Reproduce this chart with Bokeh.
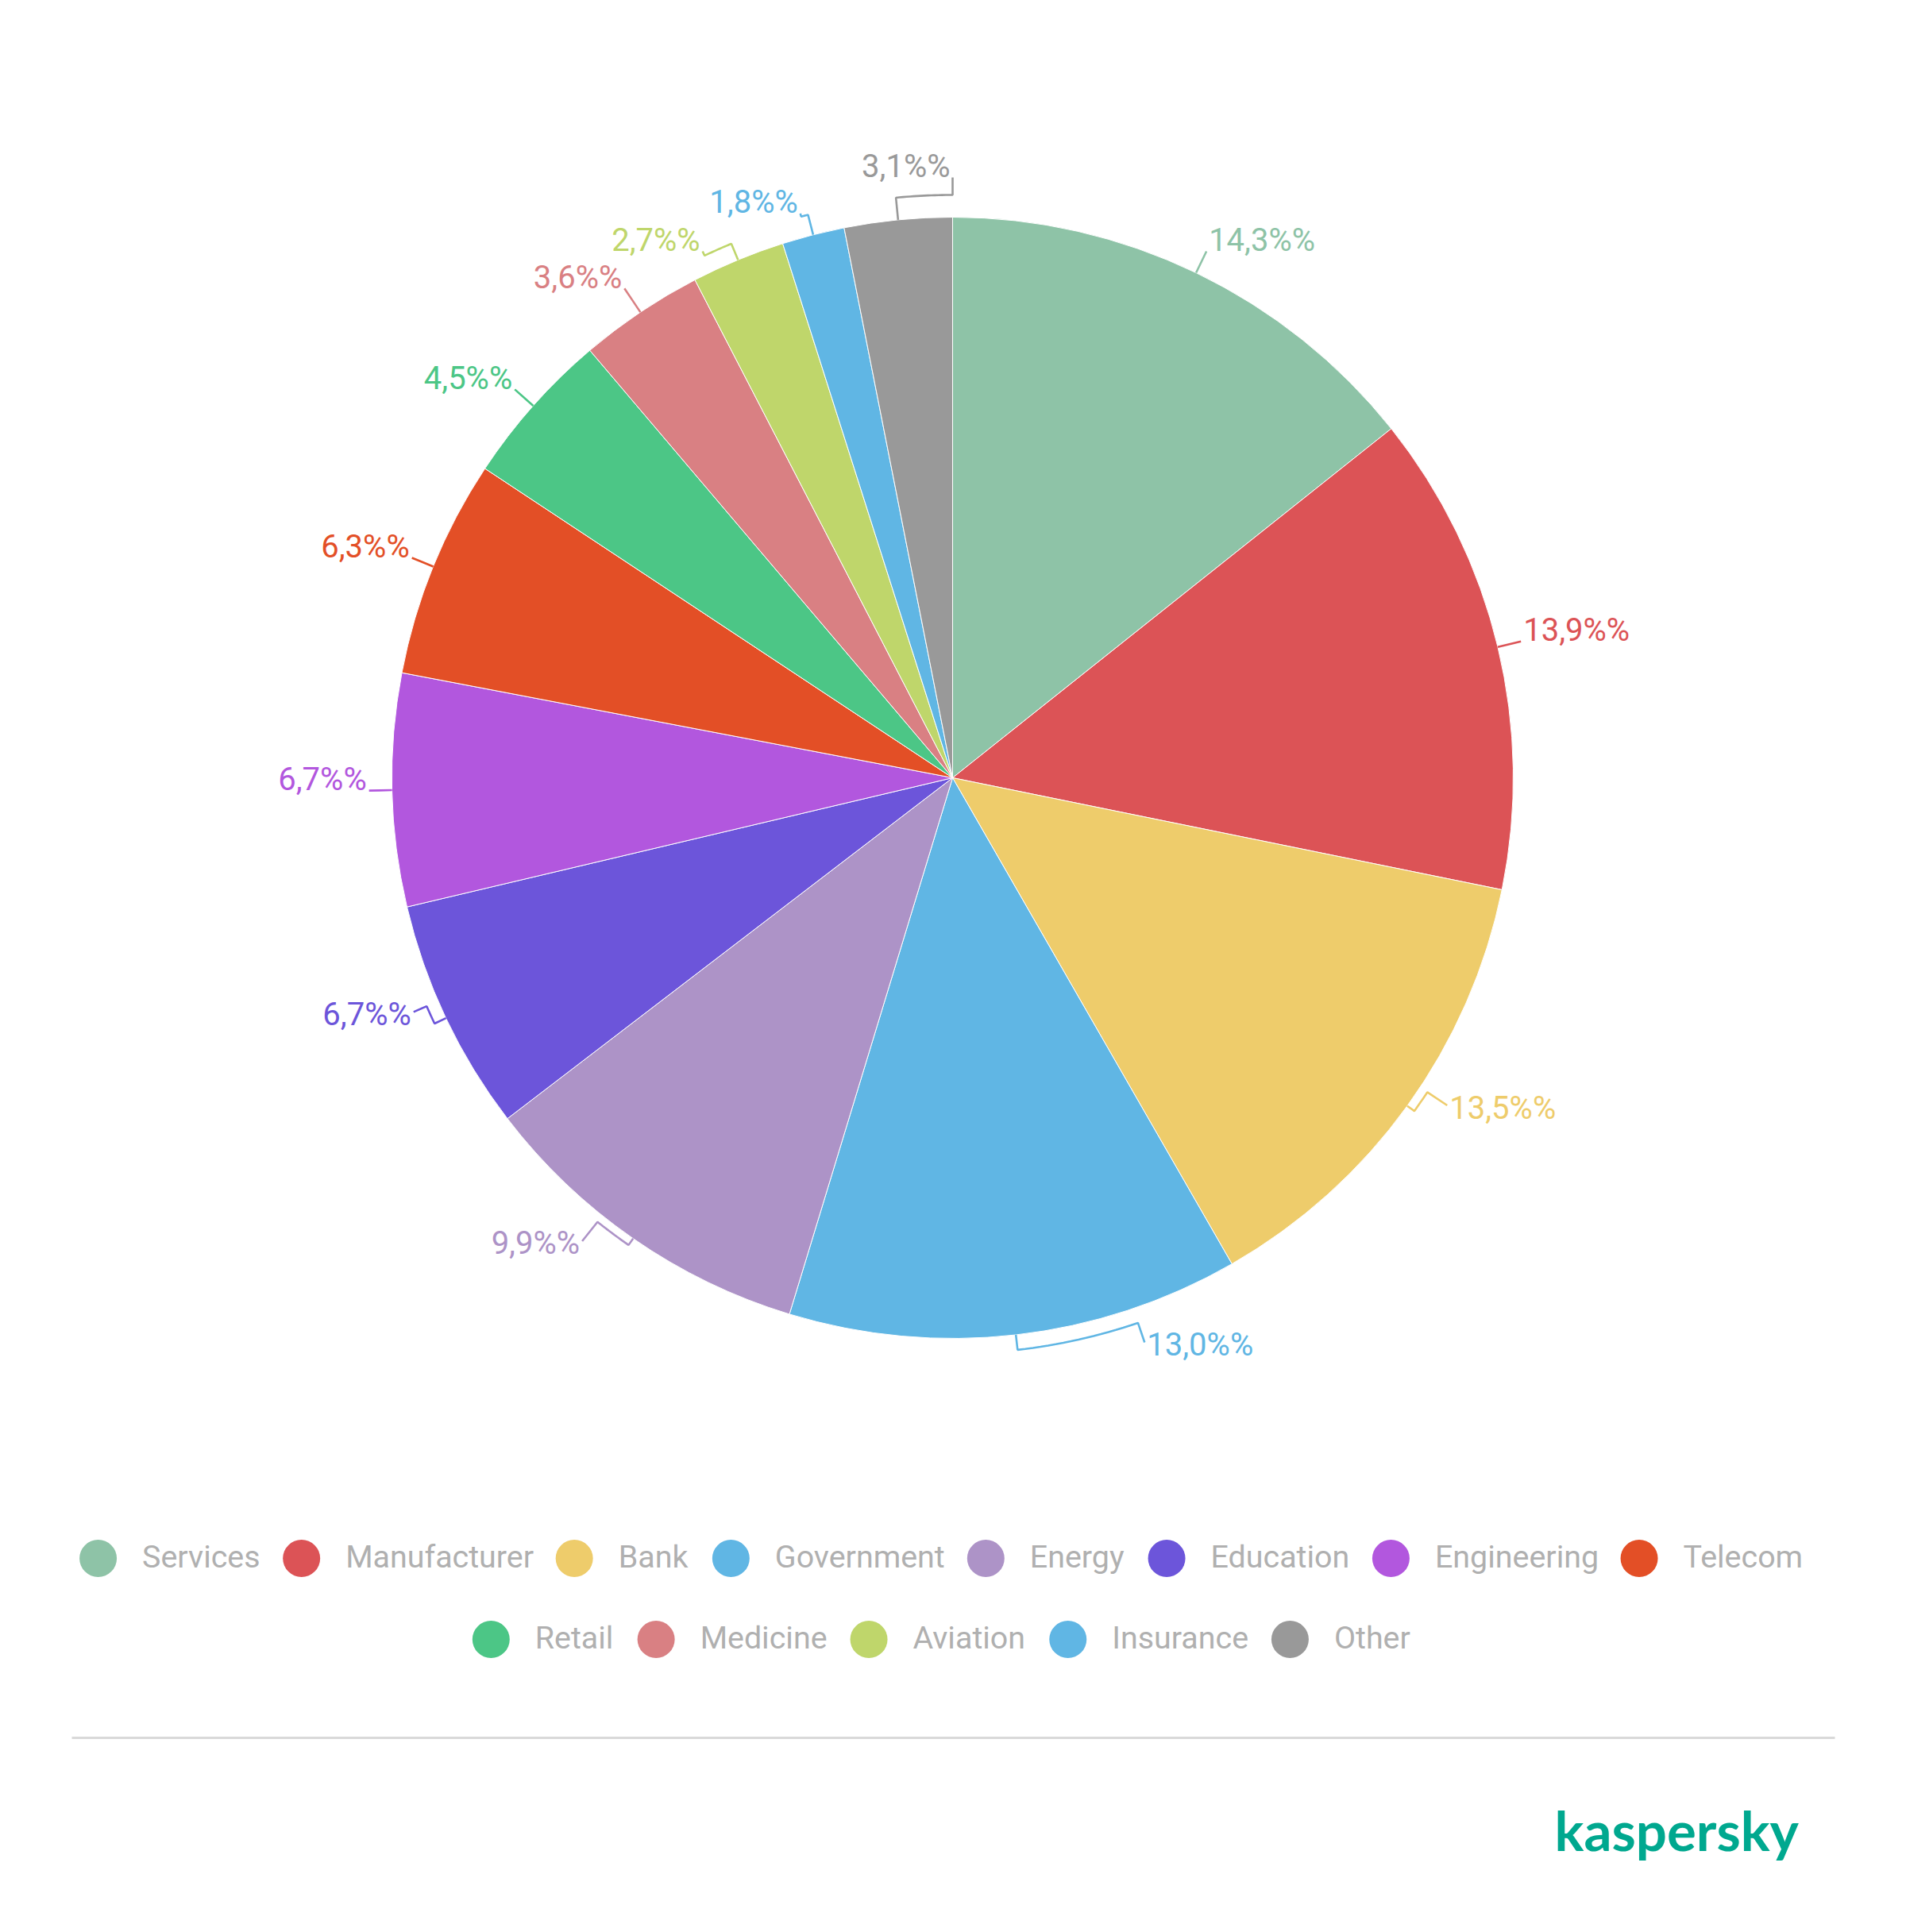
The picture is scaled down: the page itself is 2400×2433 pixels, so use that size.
import math
from bokeh.plotting import figure
from bokeh.models import Range1d
from bokeh.core.properties import value
from bokeh.embed import file_html
from bokeh.resources import INLINE

# ---------------- data ----------------
categories = ["Services", "Manufacturer", "Bank", "Government", "Energy", "Education",
              "Engineering", "Telecom", "Retail", "Medicine", "Aviation", "Insurance", "Other"]
shares = [14.3, 13.9, 13.5, 13.0, 9.9, 6.7, 6.7, 6.3, 4.5, 3.6, 2.7, 1.8, 3.1]
colors = ["#8ec3a7", "#dc5356", "#eecc6b", "#60b6e4", "#ad93c7", "#6c55da",
          "#b257de", "#e34f26", "#4cc686", "#d98083", "#bfd66b", "#60b6e4", "#999999"]
legend_rows = [categories[:8], categories[8:]]
labels = [("%.1f" % v).replace(".", ",") + "%%" for v in shares]

# ---------------- layout (page pixels) ----------------
W, H = 2400, 2433
CX, CY, R = 1199, 979, 706
label_shift = [0, 0, -2.3, -12.3, 3.9, 1.9, 0, 0, 0, 0, -2.9, -0.7, 5.58]
elbow_ext = [15, 15, 11, 19, 10, 16, 15, 15, 15, 18, 22, 26, 28]
label_ext = [30, 30, 41, 45, 41, 34, 29, 29, 31, 36, 28, 30, 50]
LABEL_FS = "40px"
LEG_FS = 39.4
LEG_Y = [1962, 2064]
DOT = 47
GAP = 32
BASE_FIX = -15   # correction of rendered baseline

ADV = {' ': 507, 'a': 1087, 'b': 1120, 'c': 1046, 'd': 1125, 'e': 1058, 'f': 696, 'g': 1120,
       'h': 1102, 'i': 486, 'j': 478, 'k': 1014, 'l': 486, 'm': 1754, 'n': 1104, 'o': 1141,
       'p': 1120, 'q': 1129, 'r': 678, 's': 1031, 't': 653, 'u': 1102, 'v': 968, 'w': 1502,
       'x': 992, 'y': 946, 'z': 992, 'A': 1336, 'B': 1275, 'C': 1333, 'D': 1343, 'E': 1163,
       'F': 1131, 'G': 1395, 'H': 1461, 'I': 557, 'M': 1794, 'O': 1410, 'R': 1263, 'S': 1217,
       'T': 1221}


def text_w(s, size):
    return sum(ADV.get(c, 1100) for c in s) / 2048.0 * size


def Y(py):
    return H - py


def pol(theta_deg, rr):
    t = math.radians(theta_deg)
    return CX + rr * math.sin(t), CY - rr * math.cos(t)


p = figure(width=W - 16, height=H - 16, output_backend="svg", toolbar_location=None,
           x_range=Range1d(0, W - 16), y_range=Range1d(16, H), min_border=0,
           background_fill_color="white", border_fill_color="white")
p.axis.visible = False
p.grid.visible = False
p.outline_line_color = None

# ---------------- pie ----------------
total = sum(shares)
cum = 0.0
th_s, th_e = [], []
for v in shares:
    th_s.append(cum / total * 360.0)
    cum += v
    th_e.append(cum / total * 360.0)

p.wedge(x=CX, y=Y(CY), radius=R,
        start_angle=[math.radians(90 - t) for t in th_s],
        end_angle=[math.radians(90 - t) for t in th_e],
        direction="clock", fill_color=colors, line_color="white", line_width=1)

# ---------------- labels with leaders ----------------
xs, ys = [], []
lx, ly, lt, lc = [], [], [], []
rx, ry, rt, rc = [], [], [], []
for i in range(len(shares)):
    tm = (th_s[i] + th_e[i]) / 2.0
    tl = tm + label_shift[i]
    pts = [pol(tm, R), pol(tm, R + elbow_ext[i])]
    n = 16
    for k in range(1, n + 1):
        pts.append(pol(tm + (tl - tm) * k / n, R + elbow_ext[i]))
    ax, ay = pol(tl, R + label_ext[i])
    pts.append((ax, ay))
    xs.append([q[0] for q in pts])
    ys.append([Y(q[1]) for q in pts])
    if math.cos(math.radians(tl)) < -0.3:
        by = ay + 18
    else:
        by = ay + 1
    by += BASE_FIX
    tlm = tl % 360
    if 0 < tlm < 180:
        lx.append(ax + 3); ly.append(Y(by)); lt.append(labels[i]); lc.append(colors[i])
    else:
        rx.append(ax - 3); ry.append(Y(by)); rt.append(labels[i]); rc.append(colors[i])

p.multi_line(xs=xs, ys=ys, line_color=colors, line_width=2.6)
p.text(x=lx, y=ly, text=lt, text_color=lc, text_font=value("Roboto"), text_font_size=LABEL_FS,
       text_align="left", text_baseline="alphabetic")
p.text(x=rx, y=ry, text=rt, text_color=rc, text_font=value("Roboto"), text_font_size=LABEL_FS,
       text_align="right", text_baseline="alphabetic")

# ---------------- legend ----------------
cidx = {c: i for i, c in enumerate(categories)}
dx, dy, dc, tx, ty, tt = [], [], [], [], [], []
for row, yy in zip(legend_rows, LEG_Y):
    widths = [DOT + GAP + text_w(c, LEG_FS) + GAP for c in row]
    x0 = W / 2.0 - sum(widths) / 2.0
    for c, w in zip(row, widths):
        dx.append(x0 + DOT / 2.0); dy.append(Y(yy)); dc.append(colors[cidx[c]])
        tx.append(x0 + DOT + GAP); ty.append(Y(yy + 13 + BASE_FIX)); tt.append(c)
        x0 += w

p.scatter(x=dx, y=dy, size=DOT, marker="circle", fill_color=dc, line_color=None)
p.text(x=tx, y=ty, text=tt, text_color="#b0b0b0", text_font=value("Roboto"),
       text_font_size="%.1fpx" % LEG_FS, text_align="left", text_baseline="alphabetic")

# ---------------- separator and logo ----------------
p.segment(x0=[90], y0=[Y(2188)], x1=[2310], y1=[Y(2188)], line_color="#d9d9d9", line_width=3)
p.text(x=[1957], y=[Y(2319 + BASE_FIX)], text=["kaspersky"], text_color="#00a88f",
       text_font=value("Lato"), text_font_size="69px", text_font_style="bold",
       text_align="left", text_baseline="alphabetic")

open("out.html", "w").write(file_html(p, INLINE))
